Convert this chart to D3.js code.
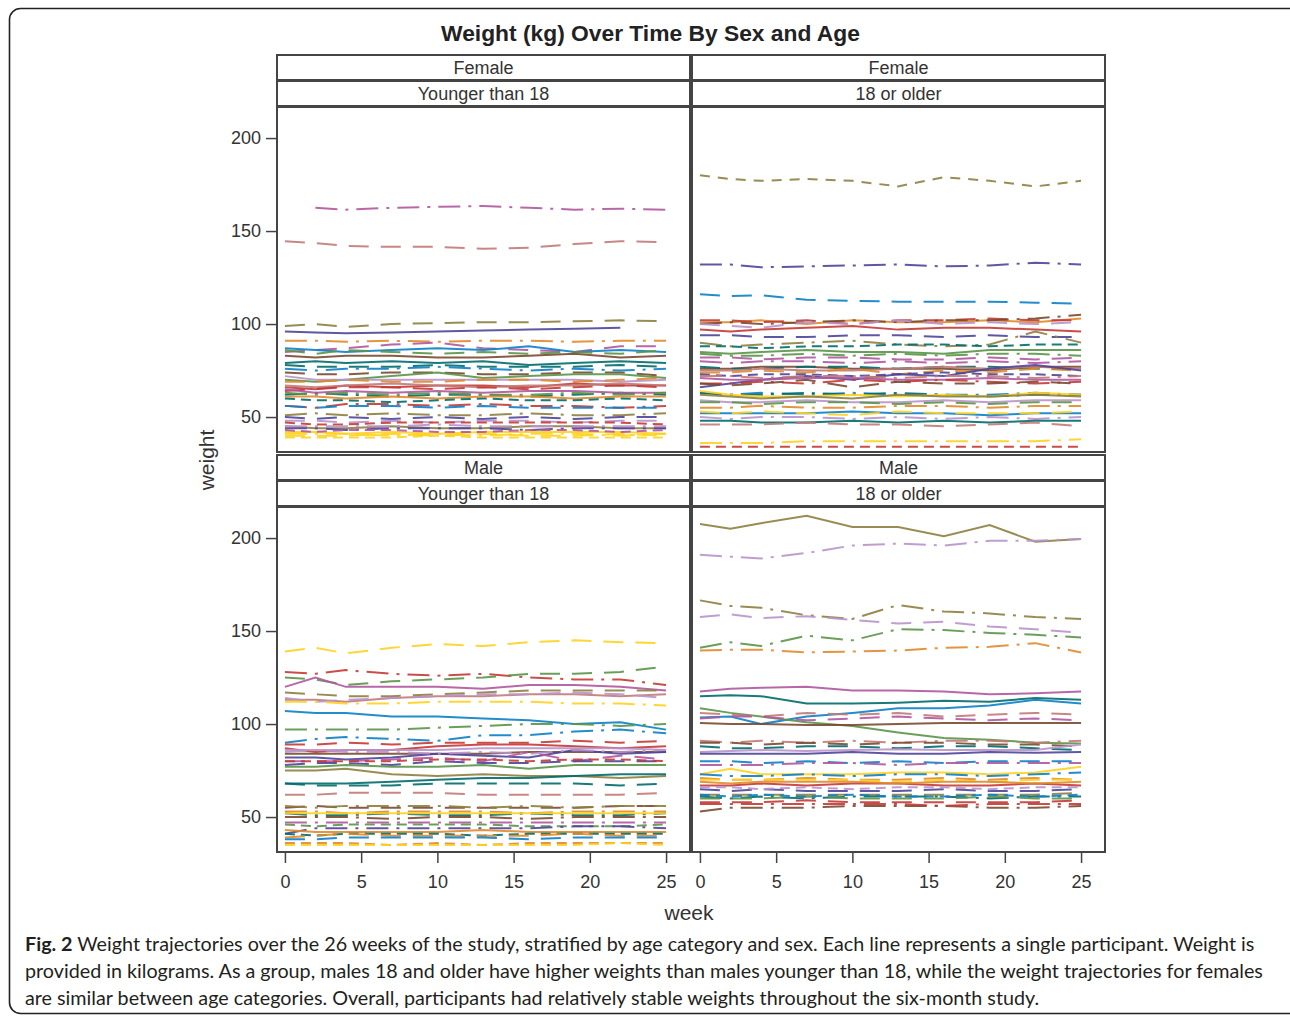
<!DOCTYPE html>
<html>
<head>
<meta charset="utf-8">
<script src="https://cdn.jsdelivr.net/npm/d3@7"></script>
<style>
  body { margin: 0; background: #fff; }
  svg { display: block; }
</style>
</head>
<body>
<script>
const weeks = [0, 2, 4, 7, 10, 13, 16, 19, 22, 25];
const xTicks = [0, 5, 10, 15, 20, 25];
const yTicks = [50, 100, 150, 200];
const sexLabels = ["Female", "Female", "Male", "Male"];
const ageLabels = ["Younger than 18", "18 or older", "Younger than 18", "18 or older"];

// participant group ids (drive colour + line pattern) and weights, one row per participant
const femYoungIds = [28, 19, 17, 0, 32, 16, 6, 21, 3, 2, 14, 30, 15, 9, 10, 20, 1, 7, 13, 26, 4, 33, 8, 38, 25, 18, 29, 12, 22, 37, 5, 24, 34, 11, 23, 35, 47, 40];
const femYoungWeights = [
  [null, 162.5, 161.5, 162.5, 163, 163.5, 162.5, 161.5, 162, 161.5],
  [144.5, 143.5, 142, 141.5, 141.5, 140.5, 141, 143, 144.5, 144],
  [99, 100, 98.5, 100, 100.5, 101, 101, 101.5, 102, 101.5],
  [96, 95.5, 95, 95.5, 96, 96.5, 97, 97.5, 98, null],
  [91, 91, 90.5, 91, 90.5, 91, 91, 90.5, 91, 91],
  [85, 86, 87, 89, 90, 87, 86, 85, 88, 88],
  [87, 86, 85, 86, 87, 86, 88, 85, 86, 85],
  [86, 84, 86, 85, 84, 85, 84, 85, 84, 86],
  [83, 82, 83, 83, 82, 82, 83, 84, 82, 83],
  [79, 80, 79, 80, 79, 80, 78, 79, 80, 79],
  [78, 77, 77, 77, 78, 77, 77, 77, 78, 77],
  [76, 75, 76, 76, 77, 76, 75, 76, 75, 76],
  [74, 73, 73, 74, 74, 73, 73, 74, 74, 72],
  [70, 69, 70, 72, 74, 71, 72, 73, 73, 71],
  [72, 70, 70, 70, 70, 70, 70, 70, 69, 70],
  [69, 69, 70, 69, 69, 70, 70, 69, 70, 71],
  [66, 65, 67, 66, 67, 67, 66, 68, 67, 67],
  [67, 66, 67, 68, 67, 66, 67, 67, 68, 67],
  [64, 65, 66, 66, 65, 66, 65, 66, 67, 66],
  [62, 63, 62, 61, 62, 62, 61, 62, 63, 62],
  [65, 63, 64, 63, 64, 63, 64, 64, 63, 63],
  [63, 62, 63, 62, 63, 62, 62, 63, 62, 63],
  [61, 61, 60, 61, 60, 61, 61, 60, 61, 61],
  [60, 59, 59, 58, 59, 60, 59, 59, 60, 59],
  [56, 55, 57, 57, 56, 57, 56, 56, 55, 56],
  [56, 55, 56, 56, 55, 56, 55, 55, 55, 55],
  [51, 52, 51, 52, 51, 51, 52, 51, 51, 52],
  [50, 49, 50, 49, 50, 49, 50, 49, 50, 50],
  [48, 48, 47, 48, 47, 48, 48, 47, 48, 48],
  [47, 46, 46, 47, 47, 47, 47, 47, 47, 46],
  [45, 44, 44, 45, 44, 44, 45, 45, 44, 44],
  [44, 44, 43, 44, 44, 44, 43, 44, 44, 44],
  [45, 45, 45, 45, 46, 45, 45, 45, 45, 45],
  [42, 42, 41, 42, 41, 42, 42, 42, 42, 41],
  [40, 40, 40, 41, 40, 41, 40, 40, 41, 40],
  [41, 41, 41, 40, 41, 40, 41, 41, 40, 41],
  [39, 39, 39, 39, 40, 39, 39, 39, 39, 39],
  [43, 42, 43, 43, 42, 42, 43, 43, 42, 43]
];

const femOldIds = [65, 24, 18, 8, 13, 27, 22, 1, 12, 29, 38, 9, 16, 3, 14, 7, 20, 0, 4, 25, 15, 30, 26, 11, 5, 10, 21, 32, 6, 23, 34, 2, 19, 35, 37, 28, 33, 36, 31];
const femOldWeights = [
  [180, 178, 177, 178, 177, 174, 179, 177, 174, 177],
  [132, 132, 130.5, 131, 131.5, 132, 131, 131.5, 133, 132],
  [116, 115, 115.5, 113, 112.5, 112, 112, 112, 111.5, 111],
  [101, 101, 102, 100, 102, 101, 101, 102, 101, 103],
  [102, 102, 101, 102, 100, 102, 102, 103, 102, 102],
  [100, 101, 100, 101, 102, 101, 102, 102, 103, 105],
  [100, 99, 98, 101, 100, 102, 100, 101, 100, 101],
  [97, 96, 97, 98, 99, 97, 98, 98, 97, 96],
  [94, 94, 93, 93, 94, 94, 93, 94, 93, 93],
  [90, 88, 89, 90, 91, 89, 88, 89, 96, 90],
  [88, 88, 87, 88, 88, 89, 89, 88, 89, 89],
  [85, 84, 85, 86, 85, 85, 84, 86, 86, 86],
  [82, 82, 81, 82, 82, 81, 81, 82, 81, 82],
  [76, 76, 77, 77, 76, 76, 76, 75, 77, 77],
  [77, 76, 76, 77, 77, 76, 77, 77, 76, 76],
  [75, 75, 76, 75, 75, 76, 77, 76, 77, 76],
  [74, 74, 75, 74, 76, 73, 75, 74, 76, 75],
  [66, 68, 70, 72, 70, 73, 72, 76, 78, 75],
  [71, 70, 70, 71, 71, 70, 70, 71, 70, 70],
  [68, 68, 69, 68, 70, 69, 70, 69, 68, 69],
  [68, 67, 68, 70, 66, 69, 68, 68, 69, 68],
  [63, 62, 63, 62, 63, 62, 62, 62, 63, 62],
  [63, 62, 62, 63, 62, 63, 62, 61, 62, 62],
  [64, 62, 61, 61, 62, 61, 62, 61, 63, 62],
  [62, 61, 60, 61, 60, 62, 61, 61, 62, 61],
  [59, 58, 58, 59, 58, 58, 59, 58, 59, 59],
  [58, 58, 57, 58, 58, 57, 58, 57, 58, 58],
  [55, 55, 56, 55, 55, 56, 56, 55, 56, 56],
  [52, 52, 52, 52, 53, 52, 52, 51, 52, 52],
  [53, 52, 53, 52, 51, 53, 52, 52, 52, 53],
  [50, 49, 50, 50, 49, 50, 49, 50, 49, 50],
  [48, 48, 47, 47, 48, 47, 48, 47, 48, 48],
  [46, 46, 46, 47, 46, 46, 45, 46, 47, 45],
  [36, 36, 36, 37, 37, 37, 37, 37, 37, 38],
  [34, 34, 34, 34, 34, 34, 34, 34, 34, 34],
  [80, 79, 80, 80, 79, 80, 79, 80, 79, 80],
  [84, 83, 83, 84, 83, 84, 83, 84, 84, 83],
  [73, 72, 73, 73, 72, 73, 74, 73, 73, 72],
  [72, 72, 71, 72, 72, 71, 72, 72, 71, 72]
];

const maleYoungIds = [23, 25, 21, 4, 17, 7, 22, 35, 6, 33, 30, 1, 13, 10, 3, 0, 16, 12, 9, 5, 2, 14, 19, 15, 29, 32, 26, 11, 27, 28, 45, 24, 8, 38, 20, 18, 44, 47, 34, 37];
const maleYoungWeights = [
  [139, 141, 138, 141, 143, 142, 144, 145, 144, 143.5],
  [128, 127, 129, 127, 126, 127, 125, 124, 124, 121],
  [125, 124, 121, 123, 124, 125, 127, 127, 128, 131],
  [120, 125, 120, 120, 120, 119, 121, 121, 120, 118],
  [117, 116, 115, 115, 116, 117, 118, 118, 118, 118],
  [113, 113, 112, 114, 115, 115, 116, 116, 115, 116],
  [114, 112, 113, 114, 115, 116, 116, 117, 116, 114],
  [112, 112, 111, 111, 112, 112, 112, 111, 111, 110],
  [107, 106, 106, 104, 104, 103, 102, 100, 101, 97],
  [97, 97, 97, 97, 98, 99, 100, 100, 99, 100],
  [90, 92, 93, 92, 91, 94, 94, 96, 97, 95],
  [87, 85, 86, 86, 88, 89, 89, 88, 87, 88],
  [89, 89, 90, 89, 90, 90, 90, 91, 90, 91],
  [86, 86, 86, 86, 86, 87, 87, 87, 87, 86],
  [84, 84, 84, 84, 84, 84, 85, 85, 85, 85],
  [82, 82, 81, 82, 84, 83, 82, 86, 84, 85],
  [80, 80, 80, 81, 82, 80, 85, 80, 83, 81],
  [78, 79, 79, 78, 80, 79, 79, 80, 80, 80],
  [77, 77, 78, 77, 77, 78, 76, 78, 78, 78],
  [75, 75, 76, 73, 72, 73, 72, 72, 71, 72],
  [68, 68, 68, 69, 70, 71, 71, 72, 73, 73],
  [68, 67, 67, 67, 68, 68, 68, 68, 67, 68],
  [62, 62, 63, 63, 63, 62, 62, 62, 62, 63],
  [55, 56, 55, 55, 55, 55, 55, 55, 56, 56],
  [56, 55, 56, 56, 56, 55, 56, 55, 56, 56],
  [53, 53, 52, 53, 53, 53, 52, 53, 53, 53],
  [52, 51, 51, 52, 51, 51, 52, 51, 51, 52],
  [52, 52, 52, 52, 52, 52, 52, 52, 52, 52],
  [50, 50, 50, 49, 50, 50, 49, 50, 50, 50],
  [47, 47, 47, 47, 47, 47, 47, 47, 47, 47],
  [46, 45, 46, 46, 46, 46, 45, 45, 45, 46],
  [41, 44, 44, 44, 44, 44, 44, 45, 45, 44],
  [43, 42, 42, 42, 42, 43, 42, 42, 42, 42],
  [41, 40, 41, 41, 41, 40, 41, 41, 41, 41],
  [39, 40, 41, 40, 40, 40, 40, 41, 40, 40],
  [38, 38, 39, 39, 39, 39, 38, 39, 39, 39],
  [36, 36, 36, 35, 36, 35, 36, 36, 36, 36],
  [35, 35, 35, 35, 35, 35, 35, 35, 36, 35],
  [85, 86, 85, 85, 84, 85, 84, 86, 85, 86],
  [80, 80, 80, 80, 81, 81, 80, 81, 81, 80]
];

const maleOldIds = [5, 34, 29, 22, 33, 32, 4, 2, 6, 9, 19, 16, 3, 31, 15, 14, 10, 0, 18, 28, 11, 30, 20, 23, 1, 12, 17, 26, 21, 13, 27, 8, 42, 25, 46];
const maleOldWeights = [
  [207.5, 205, 208, 212, 206, 206, 201, 207, 198, 199.5],
  [191, 190, 189, 192, 196, 197, 196, 198.5, 198.5, 199.5],
  [166.5, 163.5, 162.5, 158.5, 156.5, 164, 160.5, 159.5, 157.5, 156.5],
  [157.5, 159, 157, 158, 156, 154, 155, 152.5, 151, 149],
  [141, 144, 142, 147.5, 145, 151, 150.5, 149, 148, 146.5],
  [139.5, 140, 140, 138.5, 139, 139.5, 141, 141.5, 143.5, 138.5],
  [117.5, 119, 119.5, 120, 118, 118, 117.5, 116, 116.5, 117.5],
  [115, 115.5, 115, 111, 111, 111.5, 112.5, 112, 114, 113],
  [103.5, 104, 100, 104, 106, 108.5, 108.5, 110, 113, 111],
  [108.5, 106, 104, 101, 99, 95.5, 92.5, 91.5, 90, 89.5],
  [106, 105, 104, 106, 105, 106, 104, 105, 106, 105],
  [103, 104, 104, 102, 103, 104, 103, 102, 103, 102],
  [100.5, 100, 100, 99.5, 99.5, 100, 100.5, 100.5, 100.5, 100.5],
  [91, 90, 91, 90, 91, 90, 91, 91, 90, 91],
  [90, 90, 89, 90, 89, 90, 90, 89, 89, 88],
  [88, 87, 87, 88, 88, 87, 88, 88, 87, 86],
  [85, 85.5, 86, 85.5, 86, 86.5, 86, 86, 86, 89],
  [84, 84, 84, 84, 85, 84, 84, 85, 84.5, 85],
  [80, 80, 79, 80, 79, 80, 79, 80, 80, 80],
  [78, 78, 78, 79, 79, 78, 79, 79, 79, 79],
  [73, 76, 73, 73, 73, 74, 74, 73, 74, 77],
  [73, 72, 72, 73, 72, 73, 73, 72, 73, 74],
  [71, 70, 70, 71, 70, 70, 71, 70, 71, 70],
  [70, 70, 70, 70, 70, 69, 70, 69, 70, 70],
  [67, 67, 68, 67, 68, 68, 67, 67, 68, 67],
  [65, 64, 65, 64, 64, 64, 65, 64, 64, 65],
  [62, 62, 62, 62, 62, 62, 62, 62, 62, 63],
  [61, 60, 61, 60, 61, 61, 61, 60, 61, 61],
  [60, 60, 60, 61, 60, 60, 60, 61, 60, 60],
  [58, 58, 58, 59, 58, 58, 58, 58, 58, 59],
  [53, 55, 55, 55, 56, 56, 56, 55, 55, 56],
  [69, 68, 69, 69, 69, 68, 69, 69, 68, 69],
  [62, 61, 62, 61, 62, 61, 61, 62, 61, 62],
  [57, 57, 57, 57, 57, 57, 56, 57, 57, 57],
  [66, 66, 65, 66, 65, 66, 66, 65, 66, 66]
];

const captionLines = [
  ["Fig. 2", " Weight trajectories over the 26 weeks of the study, stratified by age category and sex. Each line represents a single participant. Weight is"],
  ["", "provided in kilograms. As a group, males 18 and older have higher weights than males younger than 18, while the weight trajectories for females"],
  ["", "are similar between age categories. Overall, participants had relatively stable weights throughout the six-month study."]
];

// ---- styles ----
const palette = ["#4f4599", "#c43a35", "#006b6b", "#7a4a30", "#b0589f", "#8e8040",
                 "#0b80c6", "#c27a78", "#e0892a", "#5a9548", "#b894ca", "#ffd21f"];
const patterns = ["none", "20,12", "22,8,3,8", "10,6", "20,6,3,6,3,6", "10,8"];
const color = d3.scaleOrdinal().domain(d3.range(12)).range(palette);
const dash = d3.scaleOrdinal().domain(d3.range(6)).range(patterns);

const W = 1290, H = 1017;
const txt = "#333";
const axisFont = "'Liberation Sans', Arial, sans-serif";

const svg = d3.select("body").append("svg")
  .attr("width", W).attr("height", H);

// outer rounded frame
svg.append("rect")
  .attr("x", 9.5).attr("y", 8.5)
  .attr("width", 1300).attr("height", 1005)
  .attr("rx", 11)
  .attr("fill", "none").attr("stroke", "#222").attr("stroke-width", 1.6);

svg.append("text")
  .attr("x", 650.5).attr("y", 41)
  .attr("text-anchor", "middle")
  .attr("font-family", axisFont).attr("font-weight", "bold")
  .attr("font-size", 22.8).attr("fill", "#222")
  .text("Weight (kg) Over Time By Sex and Age");

const cols = [[277, 690], [692, 1105]];
const rows = [55, 455];
const stripH = 25;

const panels = [
  {ids: femYoungIds, weights: femYoungWeights},
  {ids: femOldIds, weights: femOldWeights},
  {ids: maleYoungIds, weights: maleYoungWeights},
  {ids: maleOldIds, weights: maleOldWeights}
];

panels.forEach((p, i) => {
  const c = cols[i % 2], top = rows[Math.floor(i / 2)];
  const plotTop = top + 2 * stripH + 2, plotBot = top + 397;

  const x = d3.scaleLinear().domain([-0.52, 26.57]).range([c[0], c[1]]);
  const y = d3.scaleLinear().domain([31.2, 216.7]).range([plotBot, plotTop]);

  const g = svg.append("g");

  // strips
  [sexLabels[i], ageLabels[i]].forEach((lab, k) => {
    const sy = top + k * (stripH + 1);
    g.append("rect")
      .attr("x", c[0]).attr("y", sy)
      .attr("width", c[1] - c[0]).attr("height", stripH)
      .attr("fill", "#fff").attr("stroke", "#444").attr("stroke-width", 2);
    g.append("text")
      .attr("x", (c[0] + c[1]) / 2).attr("y", sy + 18.5)
      .attr("text-anchor", "middle")
      .attr("font-family", axisFont).attr("font-size", 18).attr("fill", txt)
      .text(lab);
  });

  // lines
  const line = d3.line()
    .defined(d => d.v != null)
    .x(d => x(d.w))
    .y(d => y(d.v));

  g.append("g")
    .selectAll("path")
    .data(p.weights.map((row, j) => ({id: p.ids[j], pts: row.map((v, k) => ({w: weeks[k], v: v}))})))
    .join("path")
    .attr("d", d => line(d.pts))
    .attr("fill", "none")
    .attr("stroke", d => color(d.id % 12))
    .attr("stroke-dasharray", d => dash(Math.floor(d.id / 12) % 6))
    .attr("stroke-width", 2)
    .attr("stroke-opacity", 0.9);

  // panel frame
  g.append("rect")
    .attr("x", c[0]).attr("y", plotTop)
    .attr("width", c[1] - c[0]).attr("height", plotBot - plotTop)
    .attr("fill", "none").attr("stroke", "#444").attr("stroke-width", 2);

  // y axis on left column
  if (i % 2 === 0) {
    const ya = g.append("g")
      .attr("transform", `translate(${c[0] - 1},0)`)
      .call(d3.axisLeft(y).tickValues(yTicks).tickSize(10).tickPadding(5));
    ya.select(".domain").remove();
    ya.selectAll("line").attr("stroke", "#444").attr("stroke-width", 1.5);
    ya.selectAll("text").attr("font-family", axisFont).attr("font-size", 18).attr("fill", txt);
  }
  // x axis on bottom row
  if (i >= 2) {
    const xa = g.append("g")
      .attr("transform", `translate(0,${plotBot + 1})`)
      .call(d3.axisBottom(x).tickValues(xTicks).tickSize(10).tickPadding(12));
    xa.select(".domain").remove();
    xa.selectAll("line").attr("stroke", "#444").attr("stroke-width", 1.5);
    xa.selectAll("text").attr("font-family", axisFont).attr("font-size", 18).attr("fill", txt);
  }
});

// axis titles
svg.append("text")
  .attr("transform", "translate(214,460) rotate(-90)")
  .attr("text-anchor", "middle")
  .attr("font-family", axisFont).attr("font-size", 21).attr("fill", txt)
  .text("weight");

svg.append("text")
  .attr("x", 689).attr("y", 920)
  .attr("text-anchor", "middle")
  .attr("font-family", axisFont).attr("font-size", 21).attr("fill", txt)
  .text("week");

// caption
const cap = svg.append("g").attr("font-family", "Lato, 'Open Sans', sans-serif").attr("fill", "#231f20");
const capTexts = captionLines.map((ln, k) => {
  const t = cap.append("text").attr("x", 25).attr("y", 951 + k * 27).attr("font-size", 18);
  if (ln[0]) t.append("tspan").attr("font-weight", "bold").text(ln[0]);
  t.append("tspan").text(ln[1]);
  return t;
});
// fit caption size to the width of the first line
const len0 = capTexts[0].node().getComputedTextLength();
const fs = 18 * 1230 / len0;
capTexts.forEach(t => t.attr("font-size", fs));
</script>
</body>
</html>
